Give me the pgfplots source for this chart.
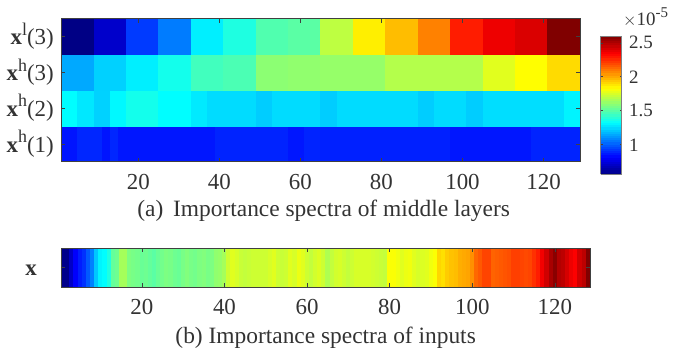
\documentclass[border=0pt]{standalone}
\usepackage{pgfplots}
\usepackage{fontspec}
\setmainfont{Liberation Serif}
\pgfplotsset{compat=1.18}
\newcommand{\lab}[2]{\textbf{x}\raisebox{0.42em}{\fontsize{18}{18}\selectfont #1}(#2)}
\pgfplotsset{
  heat/.style={surf, shader=flat corner, point meta=explicit, mesh/rows=2},
  common/.style={
    scale only axis, axis on top, view={0}{90},
    colormap/jet, point meta min=0.57, point meta max=2.6,
    axis line style={color=black!75, line width=0.7pt},
    tick style={color=black!75, line width=0.6pt},
    tick align=inside, major tick length=4bp,
    xtick={20,40,60,80,100,120},
    /pgf/number format/assume math mode=true,
    tick label style={font=\fontsize{23}{23}\selectfont, text=black!80},
    xticklabel style={yshift=-9bp},
    label style={font=\fontsize{23.5}{23.5}\selectfont, text=black!80},
  }
}
\begin{document}
\begin{tikzpicture}[x=1bp,y=1bp]
\path[use as bounding box] (0,0) rectangle (676,350);
\begin{axis}[common, at={(61.3bp,188.3bp)}, anchor=south west,
  width=518.7bp, height=143.2bp,
  xmin=1, xmax=129, ymin=0, ymax=4,
  ytick={0.5,1.5,2.5,3.5},
  yticklabels={\lab{h}{1},\lab{h}{2},\lab{h}{3},\lab{l}{3}},
  yticklabel style={xshift=-4bp},
  xlabel={(a)\, Importance spectra of middle layers},
  xlabel style={xshift=3bp, yshift=-3bp},
  colorbar sampled,
  colorbar style={
    samples=65,
    at={(parent axis.north east)}, anchor=north west,
    xshift=12.2bp, yshift=-17.5bp, width=21bp, height=138bp,
    ymin=0.57, ymax=2.6,
    ytick={1,1.5,2,2.5},
    yticklabels={1,1.5,2,2.5},
    ytick align=inside, major tick length=2bp,
    axis line style={color=black!50, line width=0.8pt},
    tick label style={font=\fontsize{19}{19}\selectfont, text=black!80},
    yticklabel style={xshift=4bp},
  },
]
% x^h(1)
\addplot[heat] coordinates {
(1,0)[.864] (5,0)[.90] (11,0)[.864] (13,0)[.90] (15,0)[.868] (39,0)[.894] (57,0)[.868] (61,0)[.894] (65,0)[.888] (97,0)[.868] (117,0)[.894] (129,0)[.894]
(1,1)[.864] (5,1)[.90] (11,1)[.864] (13,1)[.90] (15,1)[.868] (39,1)[.894] (57,1)[.868] (61,1)[.894] (65,1)[.888] (97,1)[.868] (117,1)[.894] (129,1)[.894]
};
% x^h(2)
\addplot[heat] coordinates {
(1,1)[1.33] (5,1)[1.286] (9,1)[1.242] (13,1)[1.32] (17,1)[1.37] (25,1)[1.33] (33,1)[1.29] (37,1)[1.262] (49,1)[1.232] (53,1)[1.262] (65,1)[1.232] (69,1)[1.262] (89,1)[1.232] (93,1)[1.262] (101,1)[1.232] (105,1)[1.265] (125,1)[1.31] (129,1)[1.31]
(1,2)[1.33] (5,2)[1.286] (9,2)[1.242] (13,2)[1.32] (17,2)[1.37] (25,2)[1.33] (33,2)[1.29] (37,2)[1.262] (49,2)[1.232] (53,2)[1.262] (65,2)[1.232] (69,2)[1.262] (89,2)[1.232] (93,2)[1.262] (101,2)[1.232] (105,2)[1.265] (125,2)[1.31] (129,2)[1.31]
};
% x^h(3)
\addplot[heat] coordinates {
(1,2)[1.16] (9,2)[1.24] (17,2)[1.30] (25,2)[1.37] (33,2)[1.46] (41,2)[1.48] (49,2)[1.61] (57,2)[1.62] (65,2)[1.63] (73,2)[1.63] (81,2)[1.69] (89,2)[1.69] (97,2)[1.69] (105,2)[1.78] (113,2)[1.84] (121,2)[1.91] (129,2)[1.91]
(1,3)[1.16] (9,3)[1.24] (17,3)[1.30] (25,3)[1.37] (33,3)[1.46] (41,3)[1.48] (49,3)[1.61] (57,3)[1.62] (65,3)[1.63] (73,3)[1.63] (81,3)[1.69] (89,3)[1.69] (97,3)[1.69] (105,3)[1.78] (113,3)[1.84] (121,3)[1.91] (129,3)[1.91]
};
% x^l(3)
\addplot[heat] coordinates {
(1,3)[.58] (9,3)[.72] (17,3)[.94] (25,3)[1.07] (33,3)[1.30] (41,3)[1.39] (49,3)[1.49] (57,3)[1.51] (65,3)[1.71] (73,3)[1.87] (81,3)[1.97] (89,3)[2.09] (97,3)[2.29] (105,3)[2.38] (113,3)[2.42] (121,3)[2.6] (129,3)[2.6]
(1,4)[.58] (9,4)[.72] (17,4)[.94] (25,4)[1.07] (33,4)[1.30] (41,4)[1.39] (49,4)[1.49] (57,4)[1.51] (65,4)[1.71] (73,4)[1.87] (81,4)[1.97] (89,4)[2.09] (97,4)[2.29] (105,4)[2.38] (113,4)[2.42] (121,4)[2.6] (129,4)[2.6]
};
\end{axis}
\node[anchor=south west, inner sep=0pt, font=\fontsize{19}{19}\selectfont, text=black!80] at (623,323) {$\times$10\raisebox{0.42em}{\fontsize{15}{15}\selectfont -5}};
\begin{axis}[common, at={(61.3bp,63bp)}, anchor=south west,
  width=528.7bp, height=39bp,
  xmin=0.5, xmax=128.5, ymin=0, ymax=1,
  ytick={0.5}, yticklabels={\textbf{x}},
  yticklabel style={xshift=-21bp, yshift=-3bp},
  xlabel={(b) Importance spectra of inputs},
  xlabel style={yshift=-5bp},
]
\addplot[heat] coordinates {
(.5,0)[.59] (1.5,0)[.59] (2.5,0)[.71] (3.5,0)[.82] (4.5,0)[.88] (5.5,0)[.92] (6.5,0)[1.0] (7.5,0)[1.08] (8.5,0)[1.22] (9.5,0)[1.31] (10.5,0)[1.33] (11.5,0)[1.39] (12.5,0)[1.53] (13.5,0)[1.55] (14.5,0)[1.66] (15.5,0)[1.66] (16.5,0)[1.585] (17.5,0)[1.57] (18.5,0)[1.56] (19.5,0)[1.54] (20.5,0)[1.55] (21.5,0)[1.53] (22.5,0)[1.51] (23.5,0)[1.54] (24.5,0)[1.56] (25.5,0)[1.58] (26.5,0)[1.57] (27.5,0)[1.55] (28.5,0)[1.54] (29.5,0)[1.57] (30.5,0)[1.59] (31.5,0)[1.57]
(32.5,0)[1.56] (33.5,0)[1.58] (34.5,0)[1.59] (35.5,0)[1.57] (36.5,0)[1.58] (37.5,0)[1.62] (38.5,0)[1.63] (39.5,0)[1.66] (40.5,0)[1.74] (41.5,0)[1.78] (42.5,0)[1.76] (43.5,0)[1.73] (44.5,0)[1.72] (45.5,0)[1.73] (46.5,0)[1.74] (47.5,0)[1.74] (48.5,0)[1.74] (49.5,0)[1.74] (50.5,0)[1.76] (51.5,0)[1.78] (52.5,0)[1.74] (53.5,0)[1.73] (54.5,0)[1.74] (55.5,0)[1.78] (56.5,0)[1.76] (57.5,0)[1.80] (58.5,0)[1.78] (59.5,0)[1.74] (60.5,0)[1.72] (61.5,0)[1.75] (62.5,0)[1.77] (63.5,0)[1.74]
(64.5,0)[1.68] (65.5,0)[1.72] (66.5,0)[1.75] (67.5,0)[1.76] (68.5,0)[1.74] (69.5,0)[1.72] (70.5,0)[1.74] (71.5,0)[1.76] (72.5,0)[1.76] (73.5,0)[1.76] (74.5,0)[1.76] (75.5,0)[1.75] (76.5,0)[1.74] (77.5,0)[1.73] (78.5,0)[1.72] (79.5,0)[1.83] (80.5,0)[1.83] (81.5,0)[1.81] (82.5,0)[1.78] (83.5,0)[1.80] (84.5,0)[1.81] (85.5,0)[1.78] (86.5,0)[1.76] (87.5,0)[1.77] (88.5,0)[1.78] (89.5,0)[1.81] (90.5,0)[1.83] (91.5,0)[1.92] (92.5,0)[1.90] (93.5,0)[1.94] (94.5,0)[1.96] (95.5,0)[1.97]
(96.5,0)[2.00] (97.5,0)[2.01] (98.5,0)[2.02] (99.5,0)[2.06] (100.5,0)[2.14] (101.5,0)[2.17] (102.5,0)[2.21] (103.5,0)[2.21] (104.5,0)[2.15] (105.5,0)[2.16] (106.5,0)[2.17] (107.5,0)[2.18] (108.5,0)[2.19] (109.5,0)[2.22] (110.5,0)[2.22] (111.5,0)[2.21] (112.5,0)[2.20] (113.5,0)[2.21] (114.5,0)[2.25] (115.5,0)[2.29] (116.5,0)[2.37] (117.5,0)[2.44] (118.5,0)[2.52] (119.5,0)[2.58] (120.5,0)[2.50] (121.5,0)[2.48] (122.5,0)[2.43] (123.5,0)[2.38] (124.5,0)[2.35] (125.5,0)[2.44] (126.5,0)[2.48] (127.5,0)[2.60] (128.5,0)[2.60]
(.5,1)[.59] (1.5,1)[.59] (2.5,1)[.71] (3.5,1)[.82] (4.5,1)[.88] (5.5,1)[.92] (6.5,1)[1.0] (7.5,1)[1.08] (8.5,1)[1.22] (9.5,1)[1.31] (10.5,1)[1.33] (11.5,1)[1.39] (12.5,1)[1.53] (13.5,1)[1.55] (14.5,1)[1.66] (15.5,1)[1.66] (16.5,1)[1.585] (17.5,1)[1.57] (18.5,1)[1.56] (19.5,1)[1.54] (20.5,1)[1.55] (21.5,1)[1.53] (22.5,1)[1.51] (23.5,1)[1.54] (24.5,1)[1.56] (25.5,1)[1.58] (26.5,1)[1.57] (27.5,1)[1.55] (28.5,1)[1.54] (29.5,1)[1.57] (30.5,1)[1.59] (31.5,1)[1.57]
(32.5,1)[1.56] (33.5,1)[1.58] (34.5,1)[1.59] (35.5,1)[1.57] (36.5,1)[1.58] (37.5,1)[1.62] (38.5,1)[1.63] (39.5,1)[1.66] (40.5,1)[1.74] (41.5,1)[1.78] (42.5,1)[1.76] (43.5,1)[1.73] (44.5,1)[1.72] (45.5,1)[1.73] (46.5,1)[1.74] (47.5,1)[1.74] (48.5,1)[1.74] (49.5,1)[1.74] (50.5,1)[1.76] (51.5,1)[1.78] (52.5,1)[1.74] (53.5,1)[1.73] (54.5,1)[1.74] (55.5,1)[1.78] (56.5,1)[1.76] (57.5,1)[1.80] (58.5,1)[1.78] (59.5,1)[1.74] (60.5,1)[1.72] (61.5,1)[1.75] (62.5,1)[1.77] (63.5,1)[1.74]
(64.5,1)[1.68] (65.5,1)[1.72] (66.5,1)[1.75] (67.5,1)[1.76] (68.5,1)[1.74] (69.5,1)[1.72] (70.5,1)[1.74] (71.5,1)[1.76] (72.5,1)[1.76] (73.5,1)[1.76] (74.5,1)[1.76] (75.5,1)[1.75] (76.5,1)[1.74] (77.5,1)[1.73] (78.5,1)[1.72] (79.5,1)[1.83] (80.5,1)[1.83] (81.5,1)[1.81] (82.5,1)[1.78] (83.5,1)[1.80] (84.5,1)[1.81] (85.5,1)[1.78] (86.5,1)[1.76] (87.5,1)[1.77] (88.5,1)[1.78] (89.5,1)[1.81] (90.5,1)[1.83] (91.5,1)[1.92] (92.5,1)[1.90] (93.5,1)[1.94] (94.5,1)[1.96] (95.5,1)[1.97]
(96.5,1)[2.00] (97.5,1)[2.01] (98.5,1)[2.02] (99.5,1)[2.06] (100.5,1)[2.14] (101.5,1)[2.17] (102.5,1)[2.21] (103.5,1)[2.21] (104.5,1)[2.15] (105.5,1)[2.16] (106.5,1)[2.17] (107.5,1)[2.18] (108.5,1)[2.19] (109.5,1)[2.22] (110.5,1)[2.22] (111.5,1)[2.21] (112.5,1)[2.20] (113.5,1)[2.21] (114.5,1)[2.25] (115.5,1)[2.29] (116.5,1)[2.37] (117.5,1)[2.44] (118.5,1)[2.52] (119.5,1)[2.58] (120.5,1)[2.50] (121.5,1)[2.48] (122.5,1)[2.43] (123.5,1)[2.38] (124.5,1)[2.35] (125.5,1)[2.44] (126.5,1)[2.48] (127.5,1)[2.60] (128.5,1)[2.60]
};
\end{axis}
\end{tikzpicture}
\end{document}
